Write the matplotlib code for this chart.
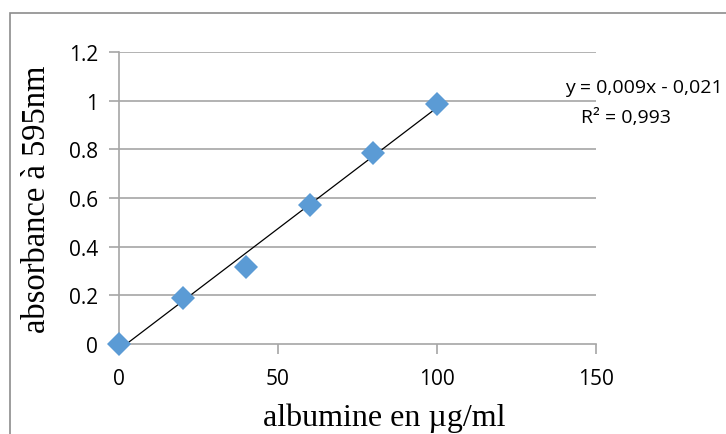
import matplotlib
matplotlib.use('Agg')
import matplotlib.pyplot as plt
from matplotlib.patches import Rectangle
import numpy as np

# data
albumine = [0, 20, 40, 60, 80, 100]
absorbance = [0.0, 0.19, 0.315, 0.572, 0.783, 0.985]
x_ticks = [0, 50, 100, 150]
y_ticks = [0, 0.2, 0.4, 0.6, 0.8, 1, 1.2]
y_tick_labels = ['0', '0.2', '0.4', '0.6', '0.8', '1', '1.2']
x_title = 'albumine en µg/ml'
y_title = 'absorbance à 595nm'
equation = 'y = 0,009x - 0,021'
r2_text = 'R² = 0,993'

grid_col = '#a6a6a6'
tick_font = 'Open Sans'
label_font = 'Liberation Serif'
W, H = 726, 435

fig = plt.figure(figsize=(7.26, 4.35), dpi=100)
fig.patch.set_facecolor('white')
# chart frame
fig.patches.append(Rectangle((9.5 / W, -0.05), 1.2, (H - 13.5) / H + 0.05,
                             transform=fig.transFigure, fill=False,
                             edgecolor='#8c8c8c', linewidth=1.2))

ax = fig.add_axes([119 / W, (H - 345) / H, (596 - 119) / W, (345 - 53) / H])
ax.set_xlim(0, 150)
ax.set_ylim(0, 1.2)

for y in y_ticks[1:]:
    ax.axhline(y, color=grid_col, linewidth=1.2, zorder=1)

# trendline (least squares over data range)
slope, inter = np.polyfit(albumine, absorbance, 1)
xs = np.array([albumine[0], albumine[-1]])
ax.plot(xs, slope * xs + inter, color='black', linewidth=0.9, zorder=3)

ax.plot(albumine, absorbance, linestyle='none', marker='D', markersize=12,
        color='#5b9bd5', markeredgewidth=0, zorder=4, clip_on=False)

for s in ['top', 'right']:
    ax.spines[s].set_visible(False)
for s in ['left', 'bottom']:
    ax.spines[s].set_color(grid_col)
    ax.spines[s].set_linewidth(1.2)

ax.set_xticks(x_ticks)
ax.set_xticklabels([str(v) for v in x_ticks], fontfamily=tick_font, fontsize=15)
ax.set_yticks(y_ticks)
ax.set_yticklabels(y_tick_labels, fontfamily=tick_font, fontsize=15)
ax.tick_params(axis='both', direction='out', color=grid_col, width=1.2, length=7)
ax.tick_params(axis='x', pad=10)
ax.tick_params(axis='y', pad=8)

# axis titles placed where the reference has them
fig.text(384 / W, 1 - 426 / H, x_title, ha='center', va='baseline',
         fontfamily=label_font, fontsize=23)
fig.text(37 / W, 1 - 199 / H, y_title, ha='center', va='center', rotation=90,
         fontfamily=label_font, fontsize=23.5)

fig.text(723 / W, 1 - 88 / H, equation, ha='right', va='center',
         fontfamily=tick_font, fontsize=14)
fig.text(626 / W, 1 - 118 / H, r2_text, ha='center', va='center',
         fontfamily=tick_font, fontsize=14)

fig.savefig('out.png', dpi=100)
